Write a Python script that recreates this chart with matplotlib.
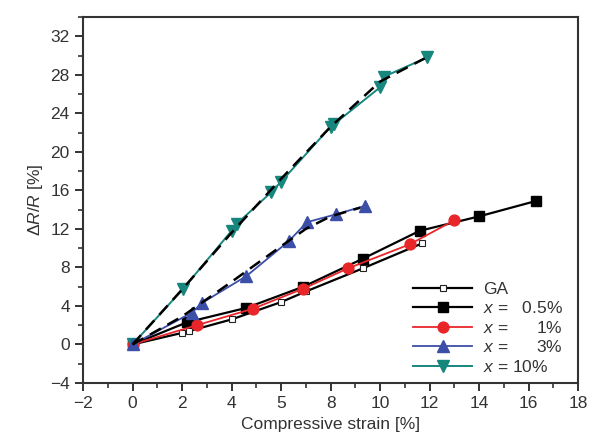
import matplotlib.pyplot as plt
from matplotlib.ticker import MultipleLocator

plt.rcParams['font.family'] = ['Liberation Sans', 'DejaVu Sans']
plt.rcParams['mathtext.fontset'] = 'custom'
plt.rcParams['mathtext.it'] = 'Liberation Sans:italic'
plt.rcParams['mathtext.rm'] = 'Liberation Sans'

# GA
ga_x = [0, 2.0, 2.3, 4.0, 6.0, 7.0, 9.3, 11.7]
ga_y = [0, 1.2, 1.4, 2.6, 4.4, 5.5, 7.9, 10.5]

# x = 0.5 %
x05_x = [0, 2.2, 4.6, 6.9, 9.3, 11.6, 14.0, 16.3]
x05_y = [0, 2.3, 3.8, 6.0, 8.9, 11.8, 13.3, 14.9]

# x = 1 %
x1_x = [0, 2.6, 4.85, 6.9, 8.7, 11.2, 13.0]
x1_y = [0, 2.0, 3.7, 5.8, 7.9, 10.4, 12.9]

# x = 3 %
x3_x = [0, 2.4, 2.8, 4.6, 6.3, 7.05, 8.2, 9.4]
x3_y = [0, 3.3, 4.3, 7.1, 10.7, 12.7, 13.5, 14.4]

# x = 10 %
x10_x = [0, 2.05, 4.0, 4.2, 5.6, 6.0, 8.0, 8.15, 10.0, 10.15, 11.9]
x10_y = [0, 5.8, 11.8, 12.5, 15.8, 16.9, 22.6, 22.9, 26.7, 27.8, 29.8]

# dashed guide lines
fit3_x = [0, 2, 4, 6, 7, 8, 9.2]
fit3_y = [0, 2.9, 6.5, 10.2, 12.0, 13.3, 14.2]
fit10_x = [0, 2, 4, 6, 8, 10, 11.8]
fit10_y = [0, 5.7, 11.6, 17.2, 22.6, 27.3, 29.7]

xticks = [-2, 0, 2, 4, 6, 8, 10, 12, 14, 16, 18]
xticklabels = ['\u22122', '0', '2', '4', '5', '8', '10', '12', '14', '16', '18']
yticks = [-4, 0, 4, 8, 12, 16, 20, 24, 28, 32]

red = '#e8262a'
blue = '#3b4ea8'
teal = '#17877e'
txt = '#333333'

fig = plt.figure(figsize=(5.9, 4.47), dpi=100)
ax = fig.add_axes([0.1407, 0.1432, 0.8393, 0.8188])

ax.plot(ga_x, ga_y, '-s', color='black', lw=1.6, ms=4.8, mfc='white', mec='#222222', mew=0.8, label='GA', zorder=3)
ax.plot(x05_x, x05_y, '-s', color='black', lw=1.6, ms=6.8, label=r'$x$ =   0.5%', zorder=3)
ax.plot(x1_x, x1_y, '-o', color=red, lw=1.3, ms=7.8, label=r'$x$ =      1%', zorder=4)
ax.plot(x10_x, x10_y, '-v', color=teal, lw=1.4, ms=9, label=r'$x$ = 10%', zorder=4)
ax.plot(x3_x, x3_y, '-^', color=blue, lw=1.3, ms=9, label=r'$x$ =      3%', zorder=5)
ax.plot(fit10_x, fit10_y, '--', color='black', lw=1.8, dashes=(5, 3), zorder=5)
ax.plot(fit3_x, fit3_y, '--', color='black', lw=1.8, dashes=(5, 3), zorder=5)

ax.set_xlim(-2, 18)
ax.set_ylim(-4, 34)
ax.set_xticks(xticks)
ax.set_xticklabels(xticklabels)
ax.set_yticks(yticks)
ax.set_yticklabels([str(v).replace('-', '\u2212') for v in yticks])
ax.xaxis.set_minor_locator(MultipleLocator(1))
ax.yaxis.set_minor_locator(MultipleLocator(2))
ax.tick_params(which='both', direction='out', top=False, right=False, labelsize=12.5, colors=txt)
ax.tick_params(which='major', length=6, width=1.4)
ax.tick_params(which='minor', length=3.5, width=1.2)
for s in ax.spines.values():
    s.set_linewidth(1.5)
    s.set_color('#333333')

ax.set_xlabel('Compressive strain [%]', fontsize=12.5, color=txt)
ax.set_ylabel(r'$\Delta R/R$ [%]', fontsize=12.5, color=txt)

h, l = ax.get_legend_handles_labels()
order = [0, 1, 2, 4, 3]
leg = ax.legend([h[i] for i in order], [l[i] for i in order], loc='lower right',
                bbox_to_anchor=(1.0, -0.02), frameon=False, fontsize=12.5,
                handlelength=3.4, labelspacing=0.2, handletextpad=0.6)
for t in leg.get_texts():
    t.set_color(txt)

fig.savefig('out.png', dpi=100)
